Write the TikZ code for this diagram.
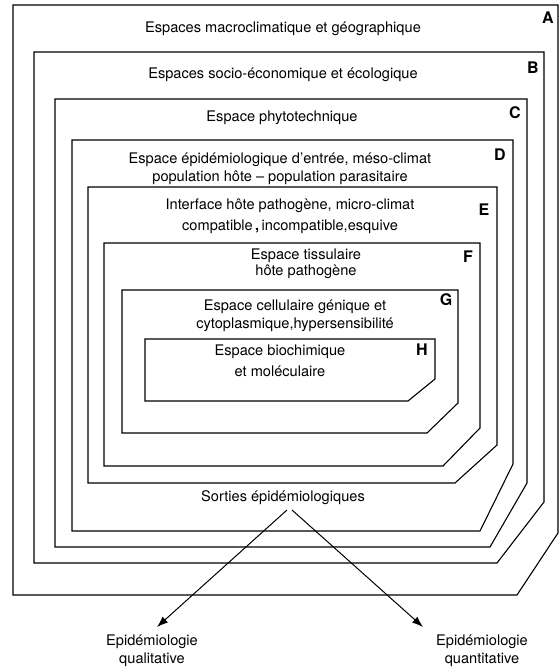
\documentclass[tikz,border=0pt]{standalone}
\usepackage{fontspec}
\setmainfont{TeX Gyre Heros}
\usetikzlibrary{arrows.meta}

\begin{document}
\begin{tikzpicture}[x=1pt,y=-1pt]
	\tikzset{espace/.style={draw,line width=1.1pt,line join=miter},
		texte/.style={align=center,inner sep=0pt,font=\fontsize{14.6}{18.5}\selectfont},
		lettre/.style={inner sep=0pt,font=\fontsize{16}{16}\selectfont\bfseries},
		fleche/.style={draw,line width=1pt,-{Latex[length=11pt,width=8pt]}}}
	\useasboundingbox (0,0) rectangle (560,670);
	\foreach \l/\t/\r/\cy/\cx/\b/\n/\lx/\ly in {
		13/5/558/533/517/595/A/548/18,
		34/52/544/502/497/563/B/533/68,
		55/99/527/483/490/547/C/515/113,
		72/140/513/464/480/531/D/500/155,
		88/187/497/445/455/483/E/484/210,
		104/243/480/428/443/466/F/468/257,
		122/290/458/403/427/433/G/446/300,
		145/339/435/379/408/401/H/422/350}{
		\draw[espace] (\l,\t) -- (\r,\t) -- (\r,\cy) -- (\cx,\b) -- (\l,\b) -- cycle;
		\node[lettre] (lettre\n) at (\lx,\ly) {\n};
	}
	\node[texte] (espA) at (283,29) {Espaces macroclimatique et géographique};
	\node[texte] (espB) at (283,75) {Espaces socio-économique et écologique};
	\node[texte] (espC) at (282,118) {Espace phytotechnique};
	\node[texte] (espD) at (280,169) {Espace épidémiologique d'entrée, méso-climat\\population hôte -- population parasitaire};
	\node[texte] (espE) at (290,216) {Interface hôte pathogène, micro-climat\\[3pt]compatible\,\textbf{,}\,incompatible,esquive};
	\node[texte] (espF) at (306,264) {Espace tissulaire\\[-2pt]hôte pathogène};
	\node[texte] (espG) at (295,316) {Espace cellulaire génique et\\cytoplasmique,hypersensibilité};
	\node[texte] (espH) at (280,361) {Espace biochimique\\[2pt]et moléculaire};
	\node[texte] (sorties) at (283,498) {Sorties épidémiologiques};
	\node[texte] (qual) at (152,651) {Epidémiologie\\qualitative};
	\node[texte] (quant) at (482,651) {Epidémiologie\\quantitative};
	\coordinate (depG) at (287,510);
	\coordinate (depD) at (292,510);
	\coordinate (finG) at (157,627);
	\coordinate (finD) at (423,627);
	\draw[fleche] (depG) -- (finG);
	\draw[fleche] (depD) -- (finD);
\end{tikzpicture}
\end{document}
